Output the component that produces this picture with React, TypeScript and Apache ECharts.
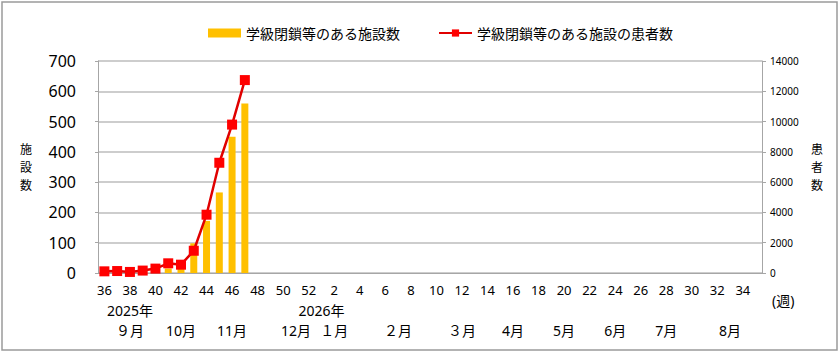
import React, { useEffect, useRef } from "react";
import * as echarts from "echarts";

// ISO weeks from week 36 of 2025 to week 35 of 2026
const weeks: string[] = [
  "36","37","38","39","40","41","42","43","44","45","46","47","48","49","50","51","52",
  "1","2","3","4","5","6","7","8","9","10","11","12","13","14","15","16","17","18","19","20",
  "21","22","23","24","25","26","27","28","29","30","31","32","33","34","35",
];

// 学級閉鎖等のある施設数 (weeks 36–47 of 2025)
const facilities: number[] = [0, 0, 1, 1, 5, 15, 15, 98, 172, 266, 450, 560];
// 学級閉鎖等のある施設の患者数 (weeks 36–47 of 2025)
const patients: number[] = [110, 130, 70, 160, 290, 640, 550, 1470, 3850, 7280, 9800, 12740];

const yearLabelWeeks: string[] = ["38", "1"];
const yearLabelTexts: string[] = ["2025年", "2026年"];
const monthLabelWeeks: string[] = ["38", "42", "46", "51", "2", "7", "12", "16", "20", "24", "28", "33"];
const monthLabelTexts: string[] = ["９月", "10月", "11月", "12月", "１月", "２月", "３月", "4月", "5月", "6月", "7月", "8月"];

const barName = "学級閉鎖等のある施設数";
const lineName = "学級閉鎖等のある施設の患者数";

const FONT = "'Noto Sans', 'Noto Sans CJK JP', sans-serif";

export default function App() {
  const ref = useRef<HTMLDivElement>(null);
  useEffect(() => {
    if (!ref.current) return;
    const chart = echarts.init(ref.current, undefined, { renderer: "svg" });
    const pad = (arr: number[]) => weeks.map((_, i) => (i < arr.length ? arr[i] : null));
    const yearCats = weeks.map((w) => {
      const k = yearLabelWeeks.indexOf(w);
      return k >= 0 ? yearLabelTexts[k] : "";
    });
    const monthCats = weeks.map((w) => {
      const k = monthLabelWeeks.indexOf(w);
      return k >= 0 ? monthLabelTexts[k] : "";
    });
    const axisGray = "#a6a6a6";
    const gridGray = "#bdbdbd";
    chart.setOption({
      animation: false,
      textStyle: { fontFamily: FONT, color: "#000" },
      graphic: [
        {
          type: "rect",
          shape: { x: 2, y: 2, width: 835, height: 348 },
          style: { fill: "none", stroke: "#9a9a9a", lineWidth: 1.5 },
          silent: true,
        },
        {
          type: "text",
          x: 772,
          y: 293,
          style: { text: "(週)", font: `14px ${FONT}`, fill: "#000" },
        },
      ],
      legend: {
        left: 203,
        top: 21,
        itemWidth: 33,
        itemHeight: 9,
        itemGap: 38,
        textStyle: { fontSize: 14, color: "#000", fontFamily: FONT },
        data: [
          { name: barName, icon: "rect" },
          { name: lineName },
        ],
      },
      grid: { left: 98, right: 78, top: 61, bottom: 81, containLabel: false },
      xAxis: [
        {
          type: "category",
          data: weeks,
          boundaryGap: true,
          axisLine: { show: true, lineStyle: { color: axisGray, width: 1 } },
          axisTick: { show: false },
          axisLabel: { interval: 1, fontSize: 13, color: "#000", margin: 10 },
          splitLine: { show: false },
        },
        {
          type: "category",
          data: yearCats,
          position: "bottom",
          offset: 20,
          axisLine: { show: false },
          axisTick: { show: false },
          axisLabel: { interval: 0, fontSize: 14, color: "#000", margin: 10 },
          splitLine: { show: false },
        },
        {
          type: "category",
          data: monthCats,
          position: "bottom",
          offset: 40,
          axisLine: { show: false },
          axisTick: { show: false },
          axisLabel: { interval: 0, fontSize: 14, color: "#000", margin: 10 },
          splitLine: { show: false },
        },
      ],
      yAxis: [
        {
          type: "value",
          min: 0,
          max: 700,
          interval: 100,
          name: "施\n設\n数",
          nameLocation: "middle",
          nameRotate: 0,
          nameGap: 66,
          nameTextStyle: { fontSize: 12, lineHeight: 18, color: "#000", padding: [36, 0, 0, 0] },
          axisLine: { show: true, lineStyle: { color: axisGray } },
          axisTick: { show: true, length: 3, lineStyle: { color: axisGray } },
          axisLabel: { fontSize: 16, color: "#000", margin: 22 },
          splitLine: { show: true, lineStyle: { color: gridGray, width: 1.5 } },
        },
        {
          type: "value",
          min: 0,
          max: 14000,
          interval: 2000,
          position: "right",
          name: "患\n者\n数",
          nameLocation: "middle",
          nameRotate: 0,
          nameGap: 49,
          nameTextStyle: { fontSize: 12, lineHeight: 18, color: "#000", padding: [0, 0, 12, 0] },
          axisLine: { show: true, lineStyle: { color: axisGray } },
          axisTick: { show: true, length: 4, lineStyle: { color: axisGray } },
          axisLabel: { fontSize: 10, color: "#000", margin: 8, formatter: (v: number) => String(v) },
          splitLine: { show: false },
        },
      ],
      series: [
        {
          name: barName,
          type: "bar",
          xAxisIndex: 0,
          yAxisIndex: 0,
          data: pad(facilities),
          barWidth: 7,
          itemStyle: { color: "#FFC000" },
        },
        {
          name: lineName,
          type: "line",
          xAxisIndex: 0,
          yAxisIndex: 1,
          data: pad(patients),
          symbol: "rect",
          symbolSize: 10,
          showAllSymbol: true,
          connectNulls: false,
          lineStyle: { color: "#E00000", width: 2.5 },
          itemStyle: { color: "#FF0000" },
          z: 3,
        },
      ],
    });
    return () => chart.dispose();
  }, []);
  return (
    <div
      ref={ref}
      style={{ position: "fixed", left: 0, top: 0, width: 840, height: 354, background: "#fff" }}
    />
  );
}
